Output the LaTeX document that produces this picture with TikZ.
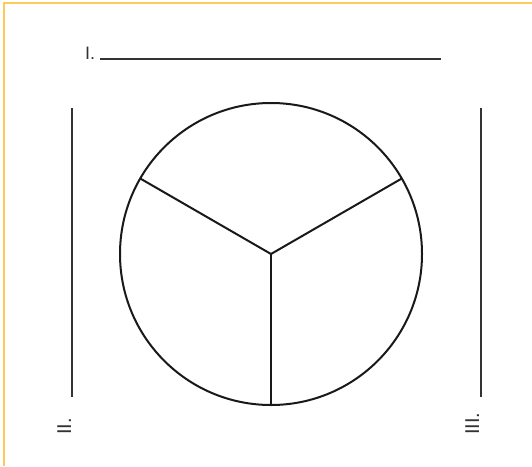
\documentclass[tikz,border=0pt]{standalone}
\usepackage{fontspec}
\setmainfont{Liberation Sans}
\usetikzlibrary{calc}
\definecolor{frameyellow}{HTML}{FDCB5A}
\definecolor{rulegray}{HTML}{333333}
\begin{document}
\begin{tikzpicture}[x=1pt,y=-1pt]
    \useasboundingbox (0,0) rectangle (532,466);

    % frame on top and left only
    \draw[frameyellow, line width=2.2pt] (532,3) -- (4,3) -- (4,466);

    \coordinate (O) at (271,254);
    \coordinate (P) at (271,405);
    \coordinate (Q) at ($(O)+(-150:151)$);
    \coordinate (R) at ($(O)+(-30:151)$);

    \draw[line width=2pt, black!90] (O) circle (151);
    \draw[line width=2pt, black!90] (O) -- (P);
    \draw[line width=2pt, black!90] (O) -- (Q);
    \draw[line width=2pt, black!90] (O) -- (R);

    % answer lines
    \coordinate (A) at (100,59);
    \coordinate (B) at (441,59);
    \coordinate (C) at (72,108);
    \coordinate (D) at (72,397);
    \coordinate (E) at (481,108);
    \coordinate (F) at (481,397);

    \draw[rulegray, line width=1.4pt] (A) -- (B);
    \draw[rulegray, line width=1.4pt] (C) -- (D);
    \draw[rulegray, line width=1.4pt] (E) -- (F);

    \node[anchor=base west, inner sep=0pt, text=rulegray, font=\fontsize{18}{21}\selectfont] (one) at (85,59) {I.};
    \node[anchor=base west, inner sep=0pt, rotate=90, text=rulegray, font=\fontsize{20}{24}\selectfont] (two) at (71,435) {II.};
    \node[anchor=base west, inner sep=0pt, rotate=90, text=rulegray, font=\fontsize{20}{24}\selectfont] (three) at (479,435) {III.};
\end{tikzpicture}
\end{document}
